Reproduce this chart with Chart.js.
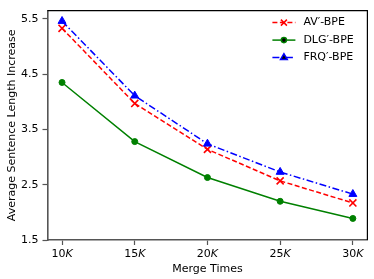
<!DOCTYPE html>
<html>
<head>
<meta charset="utf-8">
<script src="https://cdn.jsdelivr.net/npm/chart.js@4"></script>
<style>
  body { margin: 0; background: #fff; }
  #wrap { width: 374px; height: 279px; }
</style>
</head>
<body>
<div id="wrap"><canvas id="myChart" width="374" height="279"></canvas></div>
<script>
// merge times (thousands) and tick labels
const mergeTimes = [10, 15, 20, 25, 30];
const yTicks = [1.5, 2.5, 3.5, 4.5, 5.5];

// series
const avBpe = [5.33, 3.97, 3.14, 2.57, 2.17];
const dlgBpe = [4.35, 3.28, 2.63, 2.20, 1.89];
const frqBpe = [5.46, 4.11, 3.24, 2.73, 2.33];

const seriesNames = ["AV\u2032-BPE", "DLG\u2032-BPE", "FRQ\u2032-BPE"];

const FONT = "'DejaVu Sans', sans-serif";
const spineGray = "#555555";

function toPoints(vals) {
  return vals.map((v, i) => ({ x: mergeTimes[i], y: v }));
}

// matplotlib-like frame, x tick labels with italic K, and a legend
const extras = {
  id: "extras",
  afterDraw(chart) {
    const ctx = chart.ctx;
    const a = chart.chartArea;
    ctx.save();
    // top and right spines
    ctx.strokeStyle = "#000";
    ctx.lineWidth = 1.2;
    ctx.beginPath();
    ctx.moveTo(a.left, a.top);
    ctx.lineTo(a.right, a.top);
    ctx.lineTo(a.right, a.bottom);
    ctx.stroke();

    // x tick labels: "10" + italic "K"
    const xs = chart.scales.x;
    ctx.fillStyle = "#000";
    ctx.textBaseline = "middle";
    mergeTimes.forEach(t => {
      const px = xs.getPixelForValue(t);
      const num = String(t);
      ctx.font = "11px " + FONT;
      const w1 = ctx.measureText(num).width;
      ctx.font = "italic 11px " + FONT;
      const w2 = ctx.measureText("K").width;
      const x0 = px - (w1 + w2) / 2;
      ctx.font = "11px " + FONT;
      ctx.textAlign = "left";
      ctx.fillText(num, x0, a.bottom + 14);
      ctx.font = "italic 11px " + FONT;
      ctx.fillText("K", x0 + w1, a.bottom + 14);
    });

    // legend
    const ds = chart.data.datasets;
    const lx = a.right - 95;
    ds.forEach((d, i) => {
      const y = a.top + 12 + i * 17.5;
      ctx.strokeStyle = d.borderColor;
      ctx.lineWidth = d.borderWidth;
      ctx.setLineDash(d.borderDash || []);
      ctx.beginPath();
      ctx.moveTo(lx, y);
      ctx.lineTo(lx + 23, y);
      ctx.stroke();
      ctx.setLineDash([]);
      Chart.helpers.drawPoint(ctx, {
        pointStyle: d.pointStyle,
        radius: d.pointRadius * 0.85,
        borderWidth: d.pointBorderWidth,
        rotation: 0
      }, lx + 11.5, y);
      ctx.fillStyle = "#000";
      ctx.font = "11px " + FONT;
      ctx.textAlign = "left";
      ctx.fillText(d.label, lx + 31, y);
    });
    ctx.restore();
  }
};

const ctx = document.getElementById("myChart").getContext("2d");
const myChart = new Chart(ctx, {
  type: "line",
  data: {
    datasets: [
      {
        label: seriesNames[0],
        data: toPoints(avBpe),
        borderColor: "#ff0000",
        backgroundColor: "#ff0000",
        borderWidth: 1.5,
        borderDash: [5, 2.5],
        pointStyle: "crossRot",
        pointRadius: 5,
        pointBorderWidth: 1.6,
        order: 2
      },
      {
        label: seriesNames[1],
        data: toPoints(dlgBpe),
        borderColor: "#008000",
        backgroundColor: "#008000",
        borderWidth: 1.5,
        pointStyle: "circle",
        pointRadius: 3,
        pointBorderWidth: 1,
        order: 3
      },
      {
        label: seriesNames[2],
        data: toPoints(frqBpe),
        borderColor: "#0000ff",
        backgroundColor: "#0000ff",
        borderWidth: 1.5,
        borderDash: [7, 2.5, 1.5, 2.5],
        pointStyle: "triangle",
        pointRadius: 4.6,
        pointBorderWidth: 1,
        order: 1
      }
    ]
  },
  options: {
    responsive: false,
    animation: false,
    events: [],
    layout: { padding: { top: 4, right: 3, left: 0, bottom: 0 } },
    plugins: {
      legend: { display: false },
      tooltip: { enabled: false }
    },
    scales: {
      x: {
        type: "linear",
        min: 9,
        max: 31,
        afterFit(scale) { scale.height = 39; },
        afterBuildTicks(scale) { scale.ticks = mergeTimes.map(v => ({ value: v })); },
        grid: {
          drawOnChartArea: false,
          drawTicks: true,
          tickLength: 5,
          tickWidth: 1.2,
          tickColor: spineGray
        },
        border: { color: spineGray, width: 1.6 },
        ticks: {
          color: "rgba(0,0,0,0)",
          font: { family: FONT, size: 11 },
          maxRotation: 0
        },
        title: {
          display: true,
          text: "Merge Times",
          color: "#000",
          font: { family: FONT, size: 11 },
          padding: { top: 0, bottom: 3.4 }
        }
      },
      y: {
        min: 1.5,
        max: 5.65,
        afterFit(scale) { scale.width = 47.5; },
        afterBuildTicks(scale) { scale.ticks = yTicks.map(v => ({ value: v })); },
        grid: {
          drawOnChartArea: false,
          drawTicks: true,
          tickLength: 5,
          tickWidth: 1.2,
          tickColor: spineGray
        },
        border: { color: spineGray, width: 1.6 },
        ticks: {
          color: "#000",
          padding: 4,
          font: { family: FONT, size: 11 },
          callback: v => v.toFixed(1)
        },
        title: {
          display: true,
          text: "Average Sentence Length Increase",
          color: "#000",
          font: { family: FONT, size: 11 },
          padding: { top: 5.4, bottom: 0 }
        }
      }
    }
  },
  plugins: [extras]
});
</script>
</body>
</html>
